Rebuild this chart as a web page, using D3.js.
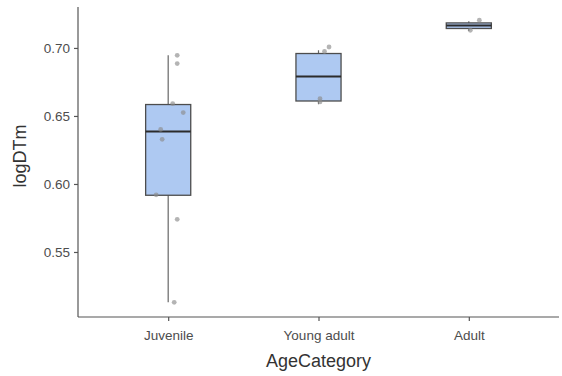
<!DOCTYPE html>
<html>
<head>
<meta charset="utf-8">
<script src="https://cdn.jsdelivr.net/npm/d3@7"></script>
<style>
  body { margin: 0; background: #fff; }
  text { font-family: "Liberation Sans", Arial, sans-serif; }
</style>
</head>
<body>
<div id="chart"></div>
<script>
// categories and box stats
var categories = ["Juvenile", "Young adult", "Adult"];
var q1 = [0.5917, 0.6610, 0.7143];
var median = [0.6385, 0.6790, 0.7165];
var q3 = [0.6584, 0.6959, 0.7184];
var whiskerLow = [0.5130, 0.6586, 0.7125];
var whiskerHigh = [0.6946, 0.6983, 0.7196];

// raw points (jittered)
var pointCat = ["Juvenile", "Juvenile", "Juvenile", "Juvenile", "Juvenile", "Juvenile", "Juvenile", "Juvenile", "Juvenile",
                "Young adult", "Young adult", "Young adult", "Young adult",
                "Adult", "Adult"];
var pointVal = [0.6946, 0.6885, 0.6590, 0.6525, 0.6401, 0.6328, 0.5920, 0.5740, 0.5130,
                0.7007, 0.6974, 0.6627, 0.6603,
                0.7204, 0.7130];
var pointJitter = [0.06, 0.06, 0.03, 0.10, -0.05, -0.04, -0.08, 0.06, 0.04,
                   0.07, 0.04, 0.01, 0.01,
                   0.07, 0.01];

var yTicks = [0.55, 0.60, 0.65, 0.70];

var svgWidth = 562, svgHeight = 376;
var margin = { top: 7, right: 3, bottom: 59, left: 78 };
var chartWidth = svgWidth - margin.left - margin.right;
var chartHeight = svgHeight - margin.top - margin.bottom;

var svg = d3.select("#chart")
  .append("svg")
  .attr("width", svgWidth)
  .attr("height", svgHeight);

var chartGroup = svg.append("g")
  .attr("transform", `translate(${margin.left}, ${margin.top})`);

// scales
var xScale = d3.scalePoint()
  .domain(categories)
  .range([0, chartWidth])
  .padding(0.6);
var step = xScale.step();

var yScale = d3.scaleLinear()
  .domain([0.5022, 0.7301])
  .range([chartHeight, 0]);

// axes
var bottomAxis = d3.axisBottom(xScale).tickSize(4).tickSizeOuter(0);
var leftAxis = d3.axisLeft(yScale).tickValues(yTicks).tickFormat(d3.format(".2f")).tickSize(4).tickSizeOuter(0);

var xAxisG = chartGroup.append("g")
  .attr("transform", `translate(0, ${chartHeight})`)
  .call(bottomAxis);
var yAxisG = chartGroup.append("g").call(leftAxis);

[xAxisG, yAxisG].forEach(function(g) {
  g.select(".domain").attr("stroke", "#555").attr("stroke-width", 1.2);
  g.selectAll(".tick line").attr("stroke", "#555").attr("stroke-width", 1.2);
  g.selectAll(".tick text").attr("fill", "#4d4d4d").style("font-size", "13.5px");
});
xAxisG.selectAll(".tick text").attr("dy", "1.15em");
yAxisG.selectAll(".tick text").attr("x", -8);

// extend axis lines to the full panel
yAxisG.select(".domain").attr("d", `M0,0V${chartHeight}`);
xAxisG.select(".domain").attr("d", `M0,0H${chartWidth}`);

// boxplots
var boxW = step * 0.3;
var boxes = chartGroup.selectAll(".box")
  .data(categories)
  .enter()
  .append("g")
  .attr("class", "box");

boxes.append("line")
  .attr("x1", d => xScale(d)).attr("x2", d => xScale(d))
  .attr("y1", (d, i) => yScale(whiskerLow[i]))
  .attr("y2", (d, i) => yScale(whiskerHigh[i]))
  .attr("stroke", "#666").attr("stroke-width", 1.2);

boxes.append("rect")
  .attr("x", d => xScale(d) - boxW / 2)
  .attr("width", boxW)
  .attr("y", (d, i) => yScale(q3[i]))
  .attr("height", (d, i) => yScale(q1[i]) - yScale(q3[i]))
  .attr("fill", "#aec9f2")
  .attr("stroke", "#4d4d4d")
  .attr("stroke-width", 1.3);

boxes.append("line")
  .attr("x1", d => xScale(d) - boxW / 2).attr("x2", d => xScale(d) + boxW / 2)
  .attr("y1", (d, i) => yScale(median[i]))
  .attr("y2", (d, i) => yScale(median[i]))
  .attr("stroke", "#2b2b2b").attr("stroke-width", 2);

// jittered points
chartGroup.selectAll(".pt")
  .data(pointVal)
  .enter()
  .append("circle")
  .attr("class", "pt")
  .attr("cx", (d, i) => xScale(pointCat[i]) + pointJitter[i] * step)
  .attr("cy", d => yScale(d))
  .attr("r", 2.4)
  .attr("fill", "#8c8c8c")
  .attr("opacity", 0.65);

// axis titles
chartGroup.append("text")
  .attr("transform", "rotate(-90)")
  .attr("x", -(chartHeight / 2) + 6)
  .attr("y", -margin.left + 26)
  .attr("text-anchor", "middle")
  .attr("fill", "#333")
  .style("font-size", "18px")
  .text("logDTm");

chartGroup.append("text")
  .attr("x", chartWidth / 2)
  .attr("y", chartHeight + 50)
  .attr("text-anchor", "middle")
  .attr("fill", "#333")
  .style("font-size", "18px")
  .text("AgeCategory");
</script>
</body>
</html>
